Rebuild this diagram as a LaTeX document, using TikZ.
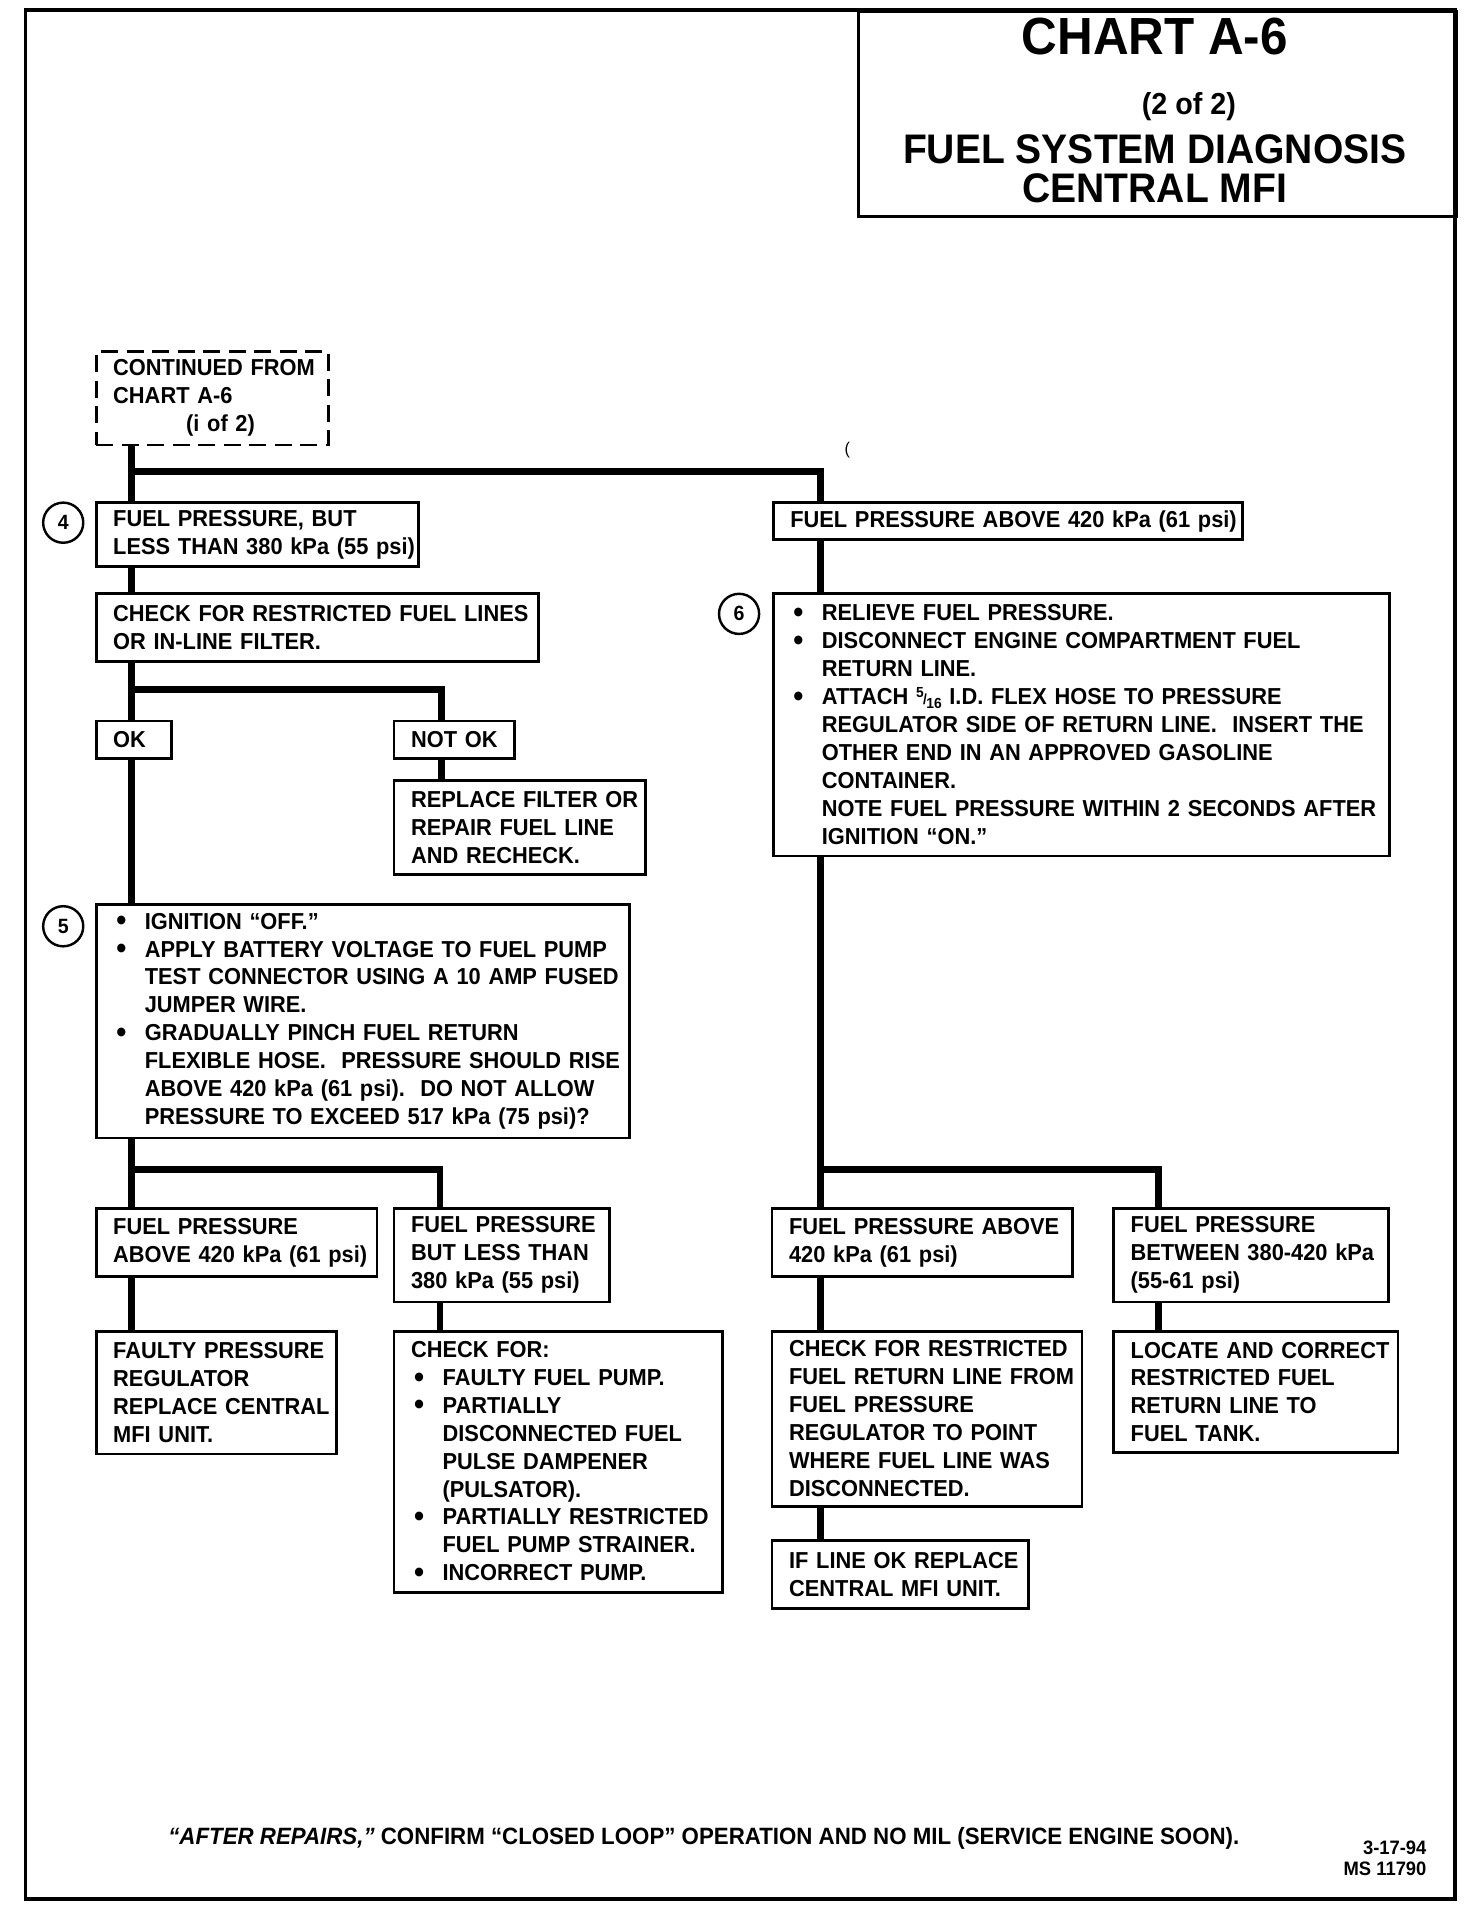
\documentclass[tikz,border=0pt]{standalone}
\usepackage{fontspec}
\setmainfont{Liberation Sans}[FakeStretch=0.945]
\usetikzlibrary{calc, positioning}
\newcommand{\bul}{\makebox[26pt][l]{\hspace{2.5pt}\raisebox{-1.5pt}{\fontsize{25}{23}\selectfont\textbullet}}}
\newcommand{\cnt}{\hspace*{26pt}}
\newcommand{\fivesix}{{\fontsize{12}{12}\selectfont\raisebox{6pt}{5}\kern-0.5pt/\kern-0.5pt\raisebox{-3pt}{16}}}

\begin{document}
\begin{tikzpicture}[x=1pt, y=-1pt,
    box/.style={draw, line width=2.3pt, anchor=north west, inner xsep=1pt, inner ysep=0pt,
      align=left, font=\bfseries\fontsize{19}{23}\selectfont,
      execute at begin node={\leftskip=13pt\rightskip=0pt plus 1fil minus 200pt\linepenalty=1000}},
    dashbox/.style={box, dash pattern=on 14pt off 7pt},
    conn/.style={line width=5.5pt},
    num/.style={circle, draw, line width=2pt, minimum size=33pt, inner sep=0pt,
      font=\bfseries\fontsize{17}{17}\selectfont}]
\useasboundingbox (0,0) rectangle (1210,1568);
% page frame and title block
\draw[line width=3pt] (21,8) rectangle (1197,1562);
\node[draw, line width=2.3pt, anchor=north west, minimum width=492pt, minimum height=169pt] (head) at (705,8) {};
\node[font=\bfseries\fontsize{43}{43}\selectfont] (ttl) at (950,30) {CHART A-6};
\node[font=\bfseries\fontsize{25}{25}\selectfont] (part) at (978,88) {(2 of 2)};
\node[font=\bfseries\fontsize{34}{34}\selectfont] (sub1) at (950,123) {FUEL SYSTEM DIAGNOSIS};
\node[font=\bfseries\fontsize{34}{34}\selectfont] (sub2) at (950,155) {CENTRAL MFI};
\node[font=\fontsize{14}{14}\selectfont] (mark) at (697,370) {(};

% left column
\node[dashbox, text width=189pt, minimum height=77pt] (cont) at (78,288)
  {CONTINUED FROM\\CHART A-6\\\hspace*{60pt}(i of 2)};
\node[box, text width=263pt, minimum height=53pt] (low) at (78,412)
  {FUEL PRESSURE, BUT\\LESS THAN 380 kPa (55 psi)};
\node[box, text width=362pt, minimum height=56pt] (chk) at (78,487)
  {CHECK FOR RESTRICTED FUEL LINES\\OR IN-LINE FILTER.};
\node[box, text width=60pt, minimum height=31pt] (ok) at (78,592) {OK};
\node[box, text width=97pt, minimum height=31pt] (nok) at (323,592) {NOT OK};
\node[box, text width=205pt, minimum height=77pt] (repl) at (323,641)
  {REPLACE FILTER OR\\REPAIR FUEL LINE\\AND RECHECK.};
\node[box, text width=437pt, minimum height=192pt] (pinch) at (78,743)
  {\bul IGNITION “OFF.”\\
   \bul APPLY BATTERY VOLTAGE TO FUEL PUMP\\
   \cnt TEST CONNECTOR USING A 10 AMP FUSED\\
   \cnt JUMPER WIRE.\\
   \bul GRADUALLY PINCH FUEL RETURN\\
   \cnt FLEXIBLE HOSE.\ \ PRESSURE SHOULD RISE\\
   \cnt ABOVE 420 kPa (61 psi).\ \ DO NOT ALLOW\\
   \cnt PRESSURE TO EXCEED 517 kPa (75 psi)?};
\node[box, text width=229pt, minimum height=56pt] (lhi) at (78,993)
  {FUEL PRESSURE\\ABOVE 420 kPa (61 psi)};
\node[box, text width=175pt, minimum height=77pt] (llo) at (323,993)
  {FUEL PRESSURE\\BUT LESS THAN\\380 kPa (55 psi)};
\node[box, text width=196pt, minimum height=101pt] (fault) at (78,1094)
  {FAULTY PRESSURE\\REGULATOR\\REPLACE CENTRAL\\MFI UNIT.};
\node[box, text width=268pt, minimum height=215pt] (pump) at (323,1094)
  {CHECK FOR:\\
   \bul FAULTY FUEL PUMP.\\
   \bul PARTIALLY\\
   \cnt DISCONNECTED FUEL\\
   \cnt PULSE DAMPENER\\
   \cnt (PULSATOR).\\
   \bul PARTIALLY RESTRICTED\\
   \cnt FUEL PUMP STRAINER.\\
   \bul INCORRECT PUMP.};

% right column
\node[box, text width=384pt, minimum height=31pt] (high) at (635,412)
  {FUEL PRESSURE ABOVE 420 kPa (61 psi)};
\node[box, text width=505pt, minimum height=216pt] (relieve) at (635,487)
  {\bul RELIEVE FUEL PRESSURE.\\
   \bul DISCONNECT ENGINE COMPARTMENT FUEL\\
   \cnt RETURN LINE.\\
   \bul ATTACH \fivesix\ I.D. FLEX HOSE TO PRESSURE\\
   \cnt REGULATOR SIDE OF RETURN LINE.\ \ INSERT THE\\
   \cnt OTHER END IN AN APPROVED GASOLINE\\
   \cnt CONTAINER.\\
   \cnt NOTE FUEL PRESSURE WITHIN 2 SECONDS AFTER\\
   \cnt IGNITION “ON.”};
\node[box, text width=245pt, minimum height=56pt] (rhi) at (634,993)
  {FUEL PRESSURE ABOVE\\420 kPa (61 psi)};
\node[box, text width=224pt, minimum height=77pt] (rmid) at (915,993)
  {FUEL PRESSURE\\BETWEEN 380-420 kPa\\(55-61 psi)};
\node[box, text width=253pt, minimum height=144pt] (retchk) at (634,1094)
  {CHECK FOR RESTRICTED\\FUEL RETURN LINE FROM\\FUEL PRESSURE\\REGULATOR TO POINT\\WHERE FUEL LINE WAS\\DISCONNECTED.};
\node[box, text width=209pt, minimum height=56pt] (lineok) at (634,1266)
  {IF LINE OK REPLACE\\CENTRAL MFI UNIT.};
\node[box, text width=232pt, minimum height=100pt] (locate) at (915,1094)
  {LOCATE AND CORRECT\\RESTRICTED FUEL\\RETURN LINE TO\\FUEL TANK.};

% step numbers
\node[num] (n4) at (52,430) {4};
\node[num] (n5) at (52,762) {5};
\node[num] (n6) at (608,505) {6};

% junction points of the thick lines
\coordinate (j1) at (108,388);
\coordinate (j1r) at (675,388);
\coordinate (j2) at (108,567);
\coordinate (j2r) at (363,567);
\coordinate (j3) at (108,962);
\coordinate (j3r) at (362,962);
\coordinate (j4) at (675,962);
\coordinate (j4r) at (953,962);

% connectors
\draw[conn] (cont.south -| j1) -- (j1 |- low.north);
\draw[conn] (j1) -- (j1r) -- (j1r |- high.north);
\draw[conn] (low.south -| j1) -- (j1 |- chk.north);
\draw[conn] (chk.south -| j1) -- (j1 |- ok.north);
\draw[conn] (j2) -- (j2r) -- (j2r |- nok.north);
\draw[conn] (nok.south -| j2r) -- (j2r |- repl.north);
\draw[conn] (ok.south -| j1) -- (j1 |- pinch.north);
\draw[conn] (pinch.south -| j3) -- (j3 |- lhi.north);
\draw[conn] (j3) -- (j3r) -- (j3r |- llo.north);
\draw[conn] (lhi.south -| j3) -- (j3 |- fault.north);
\draw[conn] (llo.south -| j3r) -- (j3r |- pump.north);
\draw[conn] (high.south -| j1r) -- (j1r |- relieve.north);
\draw[conn] (relieve.south -| j4) -- (j4 |- rhi.north);
\draw[conn] (j4) -- (j4r) -- (j4r |- rmid.north);
\draw[conn] (rhi.south -| j4) -- (j4 |- retchk.north);
\draw[conn] (retchk.south -| j4) -- (j4 |- lineok.north);
\draw[conn] (rmid.south -| j4r) -- (j4r |- locate.north);

% footer
\node[font=\bfseries\fontsize{19.4}{23}\selectfont] (foot) at (579,1512)
  {\textit{“AFTER REPAIRS,”} CONFIRM “CLOSED LOOP” OPERATION AND NO MIL (SERVICE ENGINE SOON).};
\node[anchor=east, align=right, font=\bfseries\fontsize{16}{17}\selectfont] (date) at (1177,1529)
  {3-17-94\\MS 11790};
\end{tikzpicture}
\end{document}
